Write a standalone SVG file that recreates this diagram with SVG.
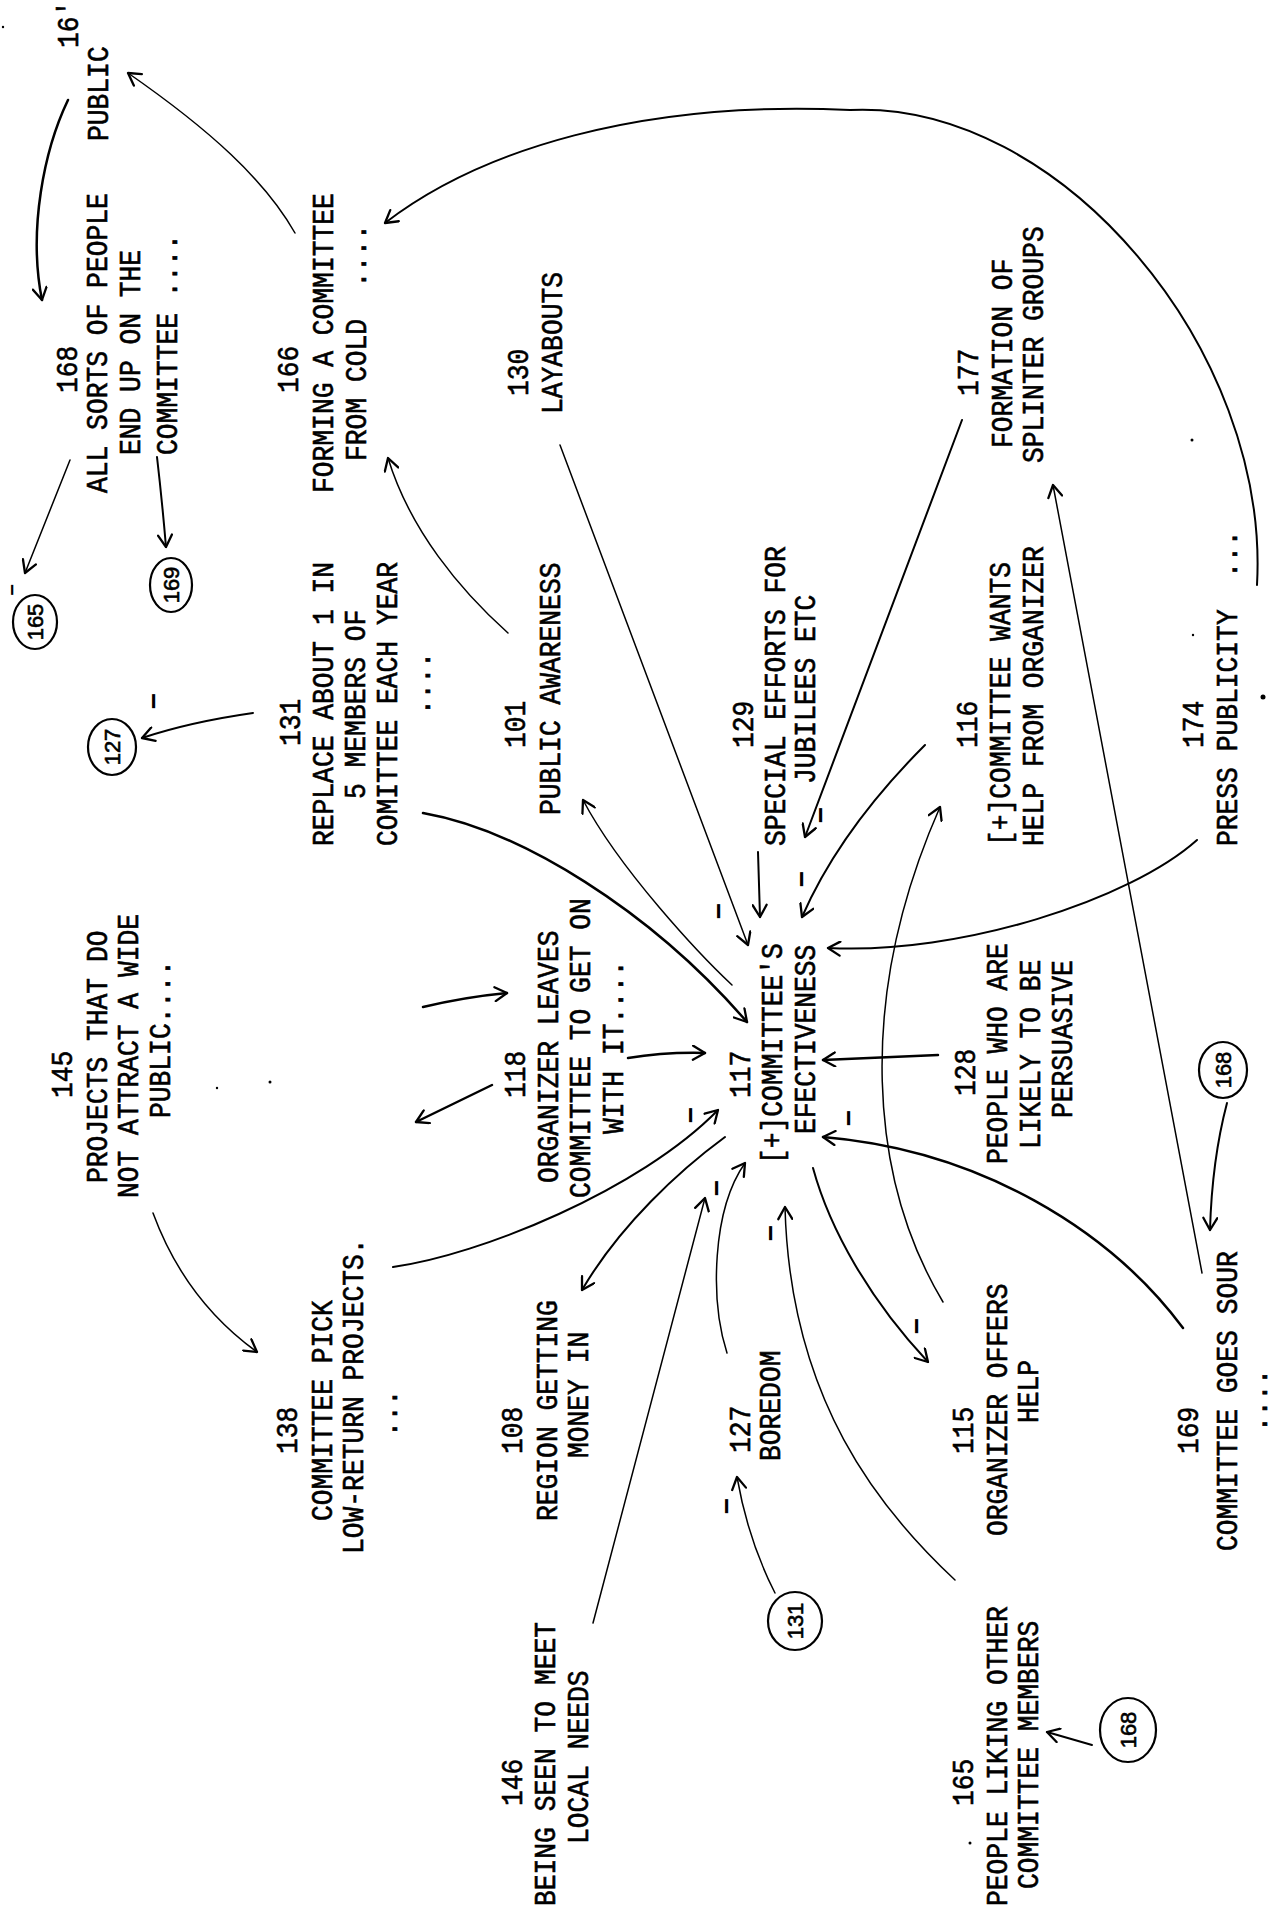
<svg xmlns="http://www.w3.org/2000/svg" width="1273" height="1911" viewBox="0 0 1273 1911">
<style>
.t{font-family:"Liberation Mono","DejaVu Sans Mono",monospace;font-size:29px;fill:#000;stroke:#000;stroke-width:0.6}
.h{font-family:"Liberation Sans",Arial,sans-serif;font-size:22px;fill:#000;stroke:#000;stroke-width:0.6}
.m{font-family:"Liberation Sans",Arial,sans-serif;font-size:28px;font-weight:bold;fill:#000}
.c{fill:none;stroke:#000;stroke-width:1.5;stroke-linecap:round}
.k{stroke-width:2.5}
.md{stroke-width:2}
.ring{fill:none;stroke:#000;stroke-width:2.2}
.dot{fill:#000}
</style>
<defs>
<marker id="ah" viewBox="0 0 16 16" refX="14" refY="8" markerWidth="16" markerHeight="16" markerUnits="userSpaceOnUse" orient="auto">
<path d="M2,1 L14,8 L2,15" fill="none" stroke="#000" stroke-width="2.3" stroke-linecap="round" stroke-linejoin="round"/>
</marker>
</defs>
<rect width="1273" height="1911" fill="#fff"/>

<g id="connectors">
<path class="c k" d="M68,100 C44,150 28,230 42,300" marker-end="url(#ah)"/>
<path class="c" d="M295,233 C265,180 210,130 128,73" marker-end="url(#ah)"/>
<path class="c md" d="M1257,585 C1270,350 1060,100 850,110 C640,100 480,150 385,223" marker-end="url(#ah)"/>
<path class="c" d="M560,445 L748,945" marker-end="url(#ah)"/>
<path class="c md" d="M962,420 L805,837" marker-end="url(#ah)"/>
<path class="c" d="M508,633 C460,590 410,530 388,458" marker-end="url(#ah)"/>
<path class="c" d="M732,985 C700,955 620,870 583,800" marker-end="url(#ah)"/>
<path class="c k" d="M423,813 C520,830 650,910 747,1022" marker-end="url(#ah)"/>
<path class="c md" d="M758,852 L760,917" marker-end="url(#ah)"/>
<path class="c md" d="M925,745 Q840,830 802,917" marker-end="url(#ah)"/>
<path class="c md" d="M1197,840 C1130,900 960,955 828,948" marker-end="url(#ah)"/>
<path class="c" d="M943,1302 C870,1180 855,1000 940,807" marker-end="url(#ah)"/>
<path class="c" d="M1202,1273 L1053,485" marker-end="url(#ah)"/>
<path class="c k" d="M938,1055 L823,1060" marker-end="url(#ah)"/>
<path class="c k" d="M1183,1328 C1110,1230 980,1150 823,1137" marker-end="url(#ah)"/>
<path class="c k" d="M628,1058 Q665,1052 705,1053" marker-end="url(#ah)"/>
<path class="c k" d="M423,1007 Q465,997 507,993" marker-end="url(#ah)"/>
<path class="c k" d="M492,1085 L416,1122" marker-end="url(#ah)"/>
<path class="c md" d="M393,1267 C480,1255 640,1190 718,1110" marker-end="url(#ah)"/>
<path class="c md" d="M725,1137 C680,1170 620,1225 582,1290" marker-end="url(#ah)"/>
<path class="c" d="M593,1623 L705,1198" marker-end="url(#ah)"/>
<path class="c" d="M727,1353 C710,1300 712,1210 745,1163" marker-end="url(#ah)"/>
<path class="c" d="M955,1580 C880,1510 790,1400 785,1207" marker-end="url(#ah)"/>
<path class="c md" d="M813,1168 C830,1230 870,1300 928,1362" marker-end="url(#ah)"/>
<path class="c" d="M153,1213 Q185,1300 257,1352" marker-end="url(#ah)"/>
<path class="c" d="M70,460 L25,573" marker-end="url(#ah)"/>
<path class="c md" d="M157,457 Q162,500 166,547" marker-end="url(#ah)"/>
<path class="c md" d="M253,713 Q190,722 142,738" marker-end="url(#ah)"/>
<path class="c" d="M775,1593 Q748,1540 737,1477" marker-end="url(#ah)"/>
<path class="c md" d="M1227,1103 Q1212,1160 1210,1230" marker-end="url(#ah)"/>
<path class="c md" d="M1092,1745 L1047,1732" marker-end="url(#ah)"/>
<g class="m">
<text transform="translate(19 590) rotate(-90)" text-anchor="middle" font-size="20">−</text>
<text transform="translate(163 701) rotate(-90)" text-anchor="middle">−</text>
<text transform="translate(728 911) rotate(-90)" text-anchor="middle">−</text>
<text transform="translate(811 879) rotate(-90)" text-anchor="middle">−</text>
<text transform="translate(830 815) rotate(-90)" text-anchor="middle">−</text>
<text transform="translate(700 1115) rotate(-90)" text-anchor="middle">−</text>
<text transform="translate(726 1188) rotate(-90)" text-anchor="middle">−</text>
<text transform="translate(780 1233) rotate(-90)" text-anchor="middle">−</text>
<text transform="translate(858 1118) rotate(-90)" text-anchor="middle">−</text>
<text transform="translate(926 1326) rotate(-90)" text-anchor="middle">−</text>
<text transform="translate(736 1506) rotate(-90)" text-anchor="middle">−</text>
</g>
</g>

<g id="specks">
<circle class="dot" cx="1192" cy="440" r="1.5"/>
<circle class="dot" cx="1193" cy="635" r="1.2"/>
<circle class="dot" cx="1263" cy="697" r="2.5"/>
<circle class="dot" cx="217" cy="1088" r="1.2"/>
<circle class="dot" cx="270" cy="1082" r="1.5"/>
<circle class="dot" cx="970" cy="1843" r="1.5"/>
<circle class="dot" cx="3" cy="27" r="1.2"/>
</g>

<g id="n167">
<text class="t" transform="translate(78 48) rotate(-90) scale(0.907 1)">16'</text>
<text class="t" transform="translate(108 141) rotate(-90) scale(0.907 1)">PUBLIC</text>
</g>
<g id="n168">
<text class="t" transform="translate(77 393) rotate(-90) scale(0.907 1)">168</text>
<text class="t" transform="translate(107 493) rotate(-90) scale(0.907 1)">ALL SORTS OF PEOPLE</text>
<text class="t" transform="translate(140 455) rotate(-90) scale(0.907 1)">END UP ON THE</text>
<text class="t" transform="translate(177 455) rotate(-90) scale(0.907 1)">COMMITTEE ....</text>
</g>
<g id="n166">
<text class="t" transform="translate(298 393) rotate(-90) scale(0.907 1)">166</text>
<text class="t" transform="translate(333 493) rotate(-90) scale(0.907 1)">FORMING A COMMITTEE</text>
<text class="t" transform="translate(366 461) rotate(-90) scale(0.907 1)" xml:space="preserve">FROM COLD  ....</text>
</g>
<g id="n130">
<text class="t" transform="translate(528 396) rotate(-90) scale(0.907 1)">130</text>
<text class="t" transform="translate(562 414) rotate(-90) scale(0.907 1)">LAYABOUTS</text>
</g>
<g id="n177">
<text class="t" transform="translate(978 396) rotate(-90) scale(0.907 1)">177</text>
<text class="t" transform="translate(1012 448) rotate(-90) scale(0.907 1)">FORMATION OF</text>
<text class="t" transform="translate(1043 463) rotate(-90) scale(0.907 1)">SPLINTER GROUPS</text>
</g>
<g id="n131">
<text class="t" transform="translate(300 746) rotate(-90) scale(0.907 1)">131</text>
<text class="t" transform="translate(333 846) rotate(-90) scale(0.907 1)">REPLACE ABOUT 1 IN</text>
<text class="t" transform="translate(365 799) rotate(-90) scale(0.907 1)">5 MEMBERS OF</text>
<text class="t" transform="translate(397 846) rotate(-90) scale(0.907 1)">COMITTEE EACH YEAR</text>
<text class="t" transform="translate(430 715) rotate(-90) scale(0.907 1)">....</text>
</g>
<g id="n101">
<text class="t" transform="translate(525 748) rotate(-90) scale(0.907 1)">101</text>
<text class="t" transform="translate(560 815) rotate(-90) scale(0.907 1)">PUBLIC AWARENESS</text>
</g>
<g id="n129">
<text class="t" transform="translate(753 748) rotate(-90) scale(0.907 1)">129</text>
<text class="t" transform="translate(785 846) rotate(-90) scale(0.907 1)">SPECIAL EFFORTS FOR</text>
<text class="t" transform="translate(815 784) rotate(-90) scale(0.907 1)">JUBILEES ETC</text>
</g>
<g id="n116">
<text class="t" transform="translate(977 748) rotate(-90) scale(0.907 1)">116</text>
<text class="t" transform="translate(1010 846) rotate(-90) scale(0.907 1)">[+]COMMITTEE WANTS</text>
<text class="t" transform="translate(1043 846) rotate(-90) scale(0.907 1)">HELP FROM ORGANIZER</text>
</g>
<g id="n174">
<text class="t" transform="translate(1203 748) rotate(-90) scale(0.907 1)">174</text>
<text class="t" transform="translate(1237 846) rotate(-90) scale(0.907 1)" xml:space="preserve">PRESS PUBLICITY  ...</text>
</g>
<g id="n145">
<text class="t" transform="translate(72 1098) rotate(-90) scale(0.907 1)">145</text>
<text class="t" transform="translate(107 1183) rotate(-90) scale(0.907 1)">PROJECTS THAT DO</text>
<text class="t" transform="translate(138 1198) rotate(-90) scale(0.907 1)">NOT ATTRACT A WIDE</text>
<text class="t" transform="translate(170 1118) rotate(-90) scale(0.907 1)">PUBLIC....</text>
</g>
<g id="n118">
<text class="t" transform="translate(525 1098) rotate(-90) scale(0.907 1)">118</text>
<text class="t" transform="translate(558 1183) rotate(-90) scale(0.907 1)">ORGANIZER LEAVES</text>
<text class="t" transform="translate(590 1198) rotate(-90) scale(0.907 1)">COMMITTEE TO GET ON</text>
<text class="t" transform="translate(623 1134) rotate(-90) scale(0.907 1)">WITH IT....</text>
</g>
<g id="n117">
<text class="t" transform="translate(750 1098) rotate(-90) scale(0.907 1)">117</text>
<text class="t" transform="translate(782 1164) rotate(-90) scale(0.907 1)">[+]COMMITTEE'S</text>
<text class="t" transform="translate(815 1134) rotate(-90) scale(0.907 1)">EFECTIVENESS</text>
</g>
<g id="n128">
<text class="t" transform="translate(975 1096) rotate(-90) scale(0.907 1)">128</text>
<text class="t" transform="translate(1007 1164) rotate(-90) scale(0.907 1)">PEOPLE WHO ARE</text>
<text class="t" transform="translate(1040 1149) rotate(-90) scale(0.907 1)">LIKELY TO BE</text>
<text class="t" transform="translate(1072 1118) rotate(-90) scale(0.907 1)">PERSUASIVE</text>
</g>
<g id="n138">
<text class="t" transform="translate(297 1454) rotate(-90) scale(0.907 1)">138</text>
<text class="t" transform="translate(332 1521) rotate(-90) scale(0.907 1)">COMMITTEE PICK</text>
<text class="t" transform="translate(363 1554) rotate(-90) scale(0.907 1)">LOW-RETURN PROJECTS.</text>
<text class="t" transform="translate(397 1437) rotate(-90) scale(0.907 1)">...</text>
</g>
<g id="n108">
<text class="t" transform="translate(522 1454) rotate(-90) scale(0.907 1)">108</text>
<text class="t" transform="translate(557 1521) rotate(-90) scale(0.907 1)">REGION GETTING</text>
<text class="t" transform="translate(588 1458) rotate(-90) scale(0.907 1)">MONEY IN</text>
</g>
<g id="n127">
<text class="t" transform="translate(750 1453) rotate(-90) scale(0.907 1)">127</text>
<text class="t" transform="translate(780 1461) rotate(-90) scale(0.907 1)">BOREDOM</text>
</g>
<g id="n115">
<text class="t" transform="translate(973 1454) rotate(-90) scale(0.907 1)">115</text>
<text class="t" transform="translate(1007 1536) rotate(-90) scale(0.907 1)">ORGANIZER OFFERS</text>
<text class="t" transform="translate(1038 1423) rotate(-90) scale(0.907 1)">HELP</text>
</g>
<g id="n169">
<text class="t" transform="translate(1198 1454) rotate(-90) scale(0.907 1)">169</text>
<text class="t" transform="translate(1237 1551) rotate(-90) scale(0.907 1)">COMMITTEE GOES SOUR</text>
<text class="t" transform="translate(1267 1432) rotate(-90) scale(0.907 1)">....</text>
</g>
<g id="n146">
<text class="t" transform="translate(522 1806) rotate(-90) scale(0.907 1)">146</text>
<text class="t" transform="translate(555 1906) rotate(-90) scale(0.907 1)">BEING SEEN TO MEET</text>
<text class="t" transform="translate(588 1844) rotate(-90) scale(0.907 1)">LOCAL NEEDS</text>
</g>
<g id="n165">
<text class="t" transform="translate(973 1806) rotate(-90) scale(0.907 1)">165</text>
<text class="t" transform="translate(1007 1906) rotate(-90) scale(0.907 1)">PEOPLE LIKING OTHER</text>
<text class="t" transform="translate(1038 1889) rotate(-90) scale(0.907 1)">COMMITTEE MEMBERS</text>
</g>

<g id="ref165"><ellipse class="ring" cx="35" cy="622" rx="22" ry="27"/><text class="h" transform="translate(43 622) rotate(-90)" text-anchor="middle">165</text></g>
<g id="ref169"><ellipse class="ring" cx="171" cy="585" rx="21" ry="27"/><text class="h" transform="translate(179 585) rotate(-90)" text-anchor="middle">169</text></g>
<g id="ref127"><ellipse class="ring" cx="112" cy="747" rx="24" ry="28"/><text class="h" transform="translate(120 747) rotate(-90)" text-anchor="middle">127</text></g>
<g id="ref131"><ellipse class="ring" cx="795" cy="1621" rx="27" ry="29"/><text class="h" transform="translate(803 1621) rotate(-90)" text-anchor="middle">131</text></g>
<g id="ref168a"><ellipse class="ring" cx="1223" cy="1070" rx="24" ry="28"/><text class="h" transform="translate(1231 1070) rotate(-90)" text-anchor="middle">168</text></g>
<g id="ref168b"><ellipse class="ring" cx="1128" cy="1730" rx="28" ry="32"/><text class="h" transform="translate(1136 1730) rotate(-90)" text-anchor="middle">168</text></g>
</svg>
